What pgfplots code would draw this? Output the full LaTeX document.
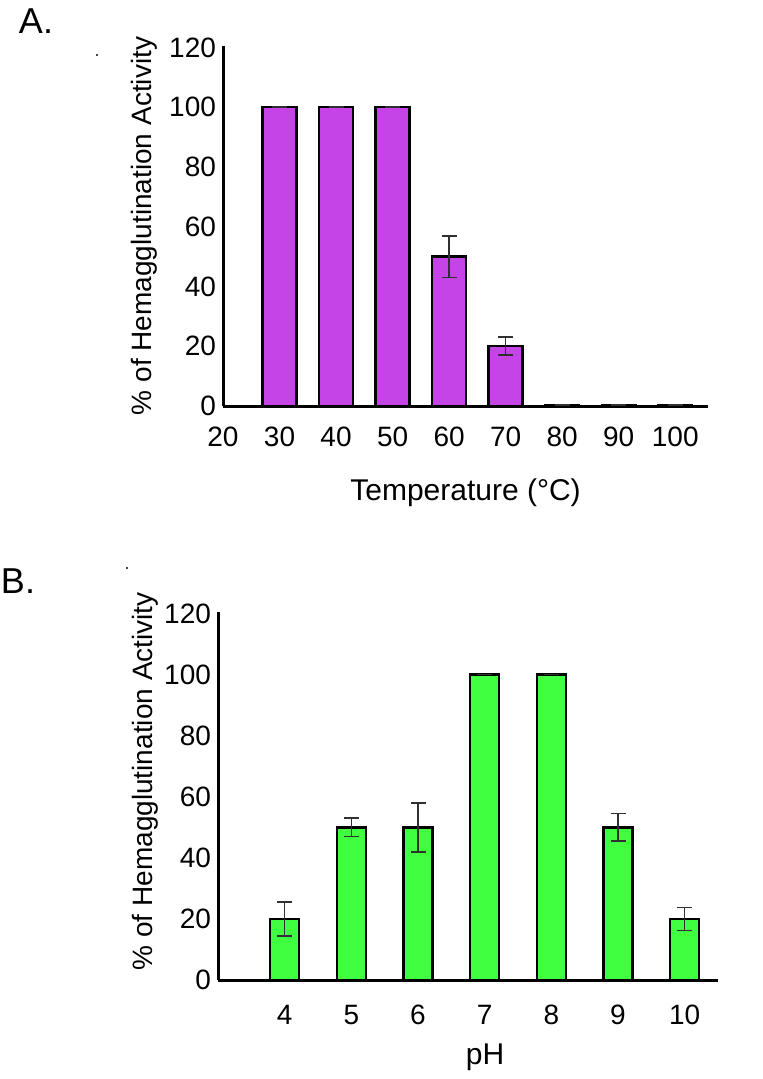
\documentclass[border=0pt]{standalone}
\usepackage{fontspec}
\setmainfont{Liberation Sans}
\usepackage{pgfplots}
\pgfplotsset{compat=1.18}
\definecolor{barpurple}{HTML}{C444E8}
\definecolor{bargreen}{HTML}{40FF40}
\definecolor{errgray}{HTML}{303030}
\pgfplotsset{
  panel/.style={
    scale only axis,
    axis lines*=left,
    axis line style={line width=1.5pt, black},
    major tick length=0pt,
    clip=false,
    ymin=0,
    ytick={0,20,...,120},
    /pgf/number format/assume math mode=true,
    tick label style={font=\fontsize{14}{17}\selectfont},
    ylabel style={font=\fontsize{14}{17}\selectfont},
    xlabel style={font=\fontsize{15}{18}\selectfont},
    ylabel={\% of Hemagglutination Activity},
    ybar,
    error bars/y dir=both,
    error bars/y explicit,
    error bars/error bar style={line width=0.8pt, errgray},
    error bars/error mark options={rotate=90, mark size=3.75pt, line width=0.8pt, errgray},
  }
}
\begin{document}
\begin{tikzpicture}
\useasboundingbox (0,0) rectangle (381pt,-539.5pt);
\node[font=\fontsize{18}{21}\selectfont] at (18pt,-10.5pt) {A.};
\node[font=\fontsize{18}{21}\selectfont] at (9pt,-290.5pt) {B.};
\fill (48.5pt,-27.5pt) circle (0.6pt);
\fill (63.5pt,-284pt) circle (0.6pt);

% Panel A
\begin{axis}[panel,
  at={(111.5pt,-203pt)}, anchor=south west,
  width=242.5pt, height=180pt,
  xmin=20, xmax=105.8, ymax=120.5,
  xtick={20,30,...,100},
  bar width=17pt,
  xticklabel style={yshift=-7pt},
  xlabel={Temperature (°C)},
  xlabel style={at={(axis description cs:0.5,-0.242)}, anchor=center},
  ylabel style={at={(axis description cs:-0.163,0.5)}, anchor=center},
]
\addplot[fill=barpurple, draw=black, line width=1.2pt]
  coordinates {
    (30,100) +- (0,0)
    (40,100) +- (0,0)
    (50,100) +- (0,0)
    (60,50) +- (0,7)
    (70,20) +- (0,3)
    (80,0.4) +- (0,0)
    (90,0.4) +- (0,0)
    (100,0.4) +- (0,0)
  };
\end{axis}

% Panel B
\begin{axis}[panel,
  at={(109pt,-490pt)}, anchor=south west,
  width=250pt, height=184pt,
  xmin=3, xmax=10.5, ymax=120.5,
  xtick={4,5,...,10},
  bar width=14.5pt,
  xticklabel style={yshift=-9pt},
  xlabel={pH},
  xlabel style={at={(axis description cs:0.534,-0.209)}, anchor=center},
  ylabel style={at={(axis description cs:-0.146,0.54)}, anchor=center},
]
\addplot[fill=bargreen, draw=black, line width=1.2pt]
  coordinates {
    (4,20) +- (0,5.5)
    (5,50) +- (0,3)
    (6,50) +- (0,8)
    (7,100) +- (0,0)
    (8,100) +- (0,0)
    (9,50) +- (0,4.5)
    (10,20) +- (0,3.8)
  };
\end{axis}
\end{tikzpicture}
\end{document}
